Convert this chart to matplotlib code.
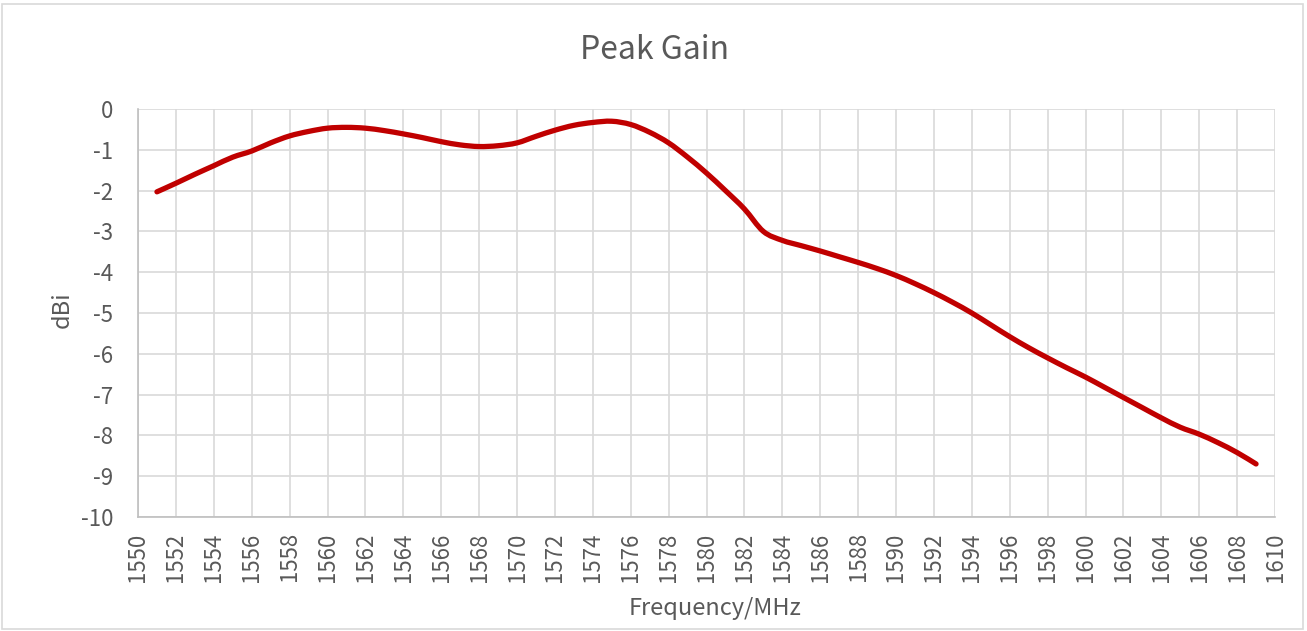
import numpy as np
import matplotlib
matplotlib.use("Agg")
import matplotlib.pyplot as plt
from matplotlib.patches import Rectangle, PathPatch
from matplotlib.path import Path

plt.rcParams['font.family'] = ['Noto Sans CJK SC', 'DejaVu Sans']
plt.rcParams['axes.unicode_minus'] = False

# data
freq = np.arange(1551, 1610)
gain = [-2.03, -1.82, -1.60, -1.39, -1.18, -1.03, -0.83, -0.66, -0.55, -0.47,
        -0.45, -0.47, -0.53, -0.61, -0.70, -0.80, -0.88, -0.92, -0.90, -0.83,
        -0.67, -0.52, -0.40, -0.33, -0.30, -0.38, -0.57, -0.83, -1.18, -1.57,
        -2.00, -2.45, -3.00, -3.22, -3.35, -3.48, -3.62, -3.76, -3.91, -4.08,
        -4.28, -4.50, -4.74, -5.00, -5.29, -5.58, -5.85, -6.10, -6.34, -6.57,
        -6.82, -7.07, -7.32, -7.57, -7.80, -7.97, -8.18, -8.42, -8.70]
x_ticks = np.arange(1550, 1611, 2)
y_ticks = np.arange(-10, 1, 1)

text_col = "#595959"
grid_col = "#d9d9d9"


def smooth_path(xs, ys, tension=1 / 6):
    """Excel-like smoothed line as a cubic Bezier path through the points."""
    pts = np.column_stack([xs, ys]).astype(float)
    verts = [pts[0]]
    codes = [Path.MOVETO]
    n = len(pts)
    for i in range(n - 1):
        p0 = pts[max(i - 1, 0)]
        p1, p2 = pts[i], pts[i + 1]
        p3 = pts[min(i + 2, n - 1)]
        verts += [p1 + (p2 - p0) * tension, p2 - (p3 - p1) * tension, p2]
        codes += [Path.CURVE4] * 3
    return Path(verts, codes)


fig = plt.figure(figsize=(13.07, 6.31), dpi=100)
ax = fig.add_axes([138 / 1307, 1 - 517 / 631, (1275 - 138) / 1307, (517 - 109) / 631])

# outer chart border
fig.patches.append(Rectangle((2 / 1307, 2 / 631), 1301 / 1307, 625 / 631,
                             transform=fig.transFigure, fill=False,
                             edgecolor="#d9d9d9", lw=1.2))

ax.add_patch(PathPatch(smooth_path(freq, gain), fill=False, edgecolor="#c00000",
                       lw=3.8, capstyle="round", joinstyle="round", zorder=3))

ax.set_xlim(1550, 1610)
ax.set_ylim(-10, 0)
ax.set_xticks(x_ticks)
ax.set_yticks(y_ticks)
ax.set_xticklabels([str(v) for v in x_ticks], rotation=90)
ax.set_yticklabels([str(v) for v in y_ticks])
ax.tick_params(length=0, labelsize=16, labelcolor=text_col)
ax.tick_params(axis="x", pad=11)
ax.tick_params(axis="y", pad=18)
ax.grid(True, color=grid_col, lw=1.2)
ax.set_axisbelow(True)

for s in ["top", "right"]:
    ax.spines[s].set_visible(False)
for s in ["left", "bottom"]:
    ax.spines[s].set_color("#bfbfbf")
    ax.spines[s].set_linewidth(1.2)

fig.text(654 / 1307, 1 - 50 / 631, "Peak Gain",
         ha="center", va="center", fontsize=23, color=text_col)
fig.text(62 / 1307, 1 - 310 / 631, "dBi", rotation=90, ha="center",
         va="center", fontsize=17, color=text_col)
fig.text(715 / 1307, 1 - 609 / 631, "Frequency/MHz", ha="center",
         va="center", fontsize=17, color=text_col)

fig.savefig("out.png", dpi=100)
